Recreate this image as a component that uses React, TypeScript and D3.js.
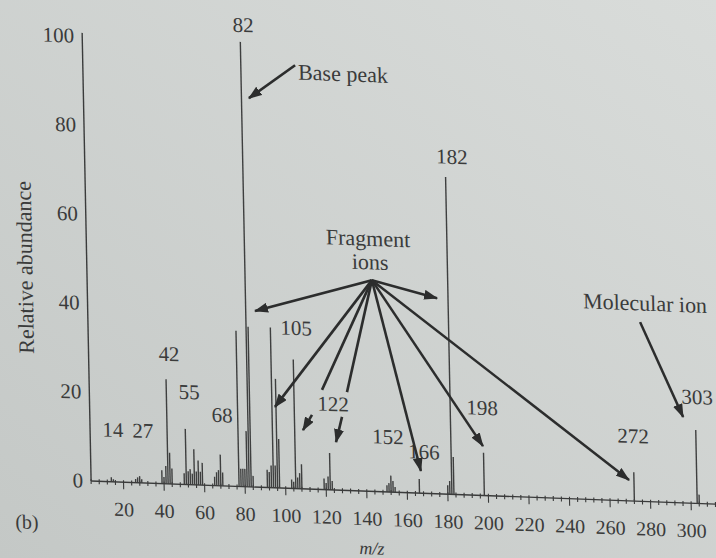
import React from 'react';
import * as d3 from 'd3';

// mass spectrum peaks (m/z, relative abundance %)
const mz = [14, 15, 26, 27, 28, 29, 39, 40, 41, 42, 43, 44, 50, 51, 52, 53, 54, 55, 56, 57, 58, 59,
  65, 66, 67, 68, 69, 77, 78, 79, 80, 81, 82, 83, 84, 91, 92, 93, 94, 95, 96, 97,
  103, 104, 105, 106, 107, 108, 119, 120, 121, 122, 123, 150, 151, 152, 153, 154,
  166, 180, 181, 182, 183, 198, 272, 303, 304];
const abundance = [1, 0.6, 0.8, 1.2, 1.5, 0.8, 3, 1.5, 4, 23.5, 7, 3.5, 2.5, 12.5, 3, 3.5, 2.5, 8, 3, 5.5, 3, 5,
  2, 3, 3.5, 7, 3, 35, 4, 4, 4, 12.5, 100, 36, 2.5, 4, 3.5, 5, 36, 5, 24.5, 11,
  2, 1.5, 29, 2.5, 3.5, 5.5, 2.5, 1.5, 3, 8.3, 2, 1.5, 2, 3.7, 2.5, 1.2,
  3.2, 2, 3, 71.3, 8.4, 9.6, 6.5, 16.5, 2];

const xTicks = [20, 40, 60, 80, 100, 120, 140, 160, 180, 200, 220, 240, 260, 280, 300];
const yTicks = [0, 20, 40, 60, 80, 100];

// peak labels, anchored in data units (m/z, abundance)
const peakLabels = ['82', '182', '14', '27', '42', '55', '68', '105', '122', '152', '166', '198', '272', '303'];
const peakLabelAt: [number, number][] = [
  [83.5, 103.8], [185.3, 75.9], [15.3, 11.7], [30.1, 11.7], [43.7, 29.2], [53.2, 20.8], [69.3, 15.9],
  [106.7, 36.1], [124.2, 19.3], [151.0, 12.4], [168.6, 9.3], [197.7, 19.7], [272.0, 14.6], [304.0, 23.9],
];

const hub: [number, number] = [144.6, 47.5];
// arrows: [from, to, withHead]
const arrows: [[number, number], [number, number], boolean][] = [
  [[108.8, 95.2], [85.7, 87.4], true],
  [hub, [86.6, 39.6], true],
  [hub, [176.6, 44.0], true],
  [hub, [95.5, 18.2], true],
  [hub, [118.9, 22.4], false],
  [hub, [131.2, 22.1], false],
  [hub, [166.9, 5.0], true],
  [hub, [197.8, 11.1], true],
  [hub, [269.6, 4.7], true],
  [[113.7, 16.7], [109.1, 13.2], true],
  [[128.5, 16.5], [125.3, 10.8], true],
  [[276.6, 40.3], [296.9, 19.3], true],
];

const W = 716;
const H = 558;
const ink = '#3a3b3b';
const serif = '"Liberation Serif", "Times New Roman", serif';

export default function App() {
  const x = d3.scaleLinear().domain([0, 310]).range([83, 711.4]);
  const y = d3.scaleLinear().domain([0, 100]).range([481, 36]);
  const cx = x(4);
  const cy = y(0);
  // slight perspective of the photographed page
  const skew = `translate(${cx},${cy}) matrix(1,0.037,0.02,1,0,0) translate(${-cx},${-cy})`;
  const minor = d3.range(4, 313, 4);

  return (
    <svg width={W} height={H} style={{ position: 'absolute', left: 0, top: 0 }} fontFamily={serif}>
      <defs>
        <linearGradient id="paper" x1="1" y1="0" x2="0" y2="1">
          <stop offset="0%" stopColor="#d9dcda" />
          <stop offset="100%" stopColor="#c4c8c6" />
        </linearGradient>
        <marker id="head" markerUnits="userSpaceOnUse" markerWidth={14} markerHeight={10}
          refX={13} refY={5} orient="auto">
          <path d="M0,0 L14,5 L0,10 Z" fill="#2c2d2d" />
        </marker>
      </defs>
      <rect width={W} height={H} fill="url(#paper)" />
      <g transform={skew}>
        {/* axes */}
        <line x1={cx} x2={cx} y1={y(0)} y2={y(100.7)} stroke={ink} strokeWidth={1.4} />
        <line x1={cx} x2={x(312)} y1={cy} y2={cy} stroke={ink} strokeWidth={1.4} />
        {minor.map(t => (
          <line key={t} x1={x(t)} x2={x(t)} y1={cy - 2}
            y2={t % 20 === 0 ? cy + 7 : cy + 3} stroke={ink} strokeWidth={1.1} />
        ))}
        {yTicks.map(t => (
          <text key={t} x={cx - 8} y={y(t)} textAnchor="end" dominantBaseline="central"
            fontSize={21} fill={ink}>{t}</text>
        ))}
        {xTicks.map(t => (
          <text key={t} x={x(t)} y={cy + 27} textAnchor="middle" dominantBaseline="central"
            fontSize={20} fill={ink}>{t}</text>
        ))}
        <text transform={`translate(${cx - 62},${y(47.5)}) rotate(-90)`} textAnchor="middle"
          dominantBaseline="central" fontSize={22} fill={ink}>Relative abundance</text>
        <text x={x(142)} y={cy + 57} textAnchor="middle" dominantBaseline="central"
          fontSize={18} fontStyle="italic" fill={ink}>m/z</text>
        <text x={cx - 65} y={cy + 43} textAnchor="middle" dominantBaseline="central"
          fontSize={20} fill={ink}>(b)</text>

        {/* peaks */}
        {mz.map((m, i) => (
          <line key={m} x1={x(m)} x2={x(m)} y1={cy} y2={y(abundance[i])}
            stroke="#3e3f3f" strokeWidth={1.4} />
        ))}

        {/* labels */}
        {peakLabels.map((s, i) => (
          <text key={s} x={x(peakLabelAt[i][0])} y={y(peakLabelAt[i][1])} textAnchor="middle"
            dominantBaseline="central" fontSize={21} fill={ink}>{s}</text>
        ))}
        <text x={x(110.2)} y={y(93.7)} dominantBaseline="central" fontSize={22} fill={ink}>Base peak</text>
        <text x={x(143.1)} y={y(56.9)} textAnchor="middle" dominantBaseline="central" fontSize={22} fill={ink}>Fragment</text>
        <text x={x(143.9)} y={y(51.6)} textAnchor="middle" dominantBaseline="central" fontSize={22} fill={ink}>ions</text>
        <text x={x(279.2)} y={y(44.6)} textAnchor="middle" dominantBaseline="central" fontSize={22} fill={ink}>Molecular ion</text>

        {/* arrows */}
        {arrows.map(([f, t, h], i) => (
          <line key={i} x1={x(f[0])} y1={y(f[1])} x2={x(t[0])} y2={y(t[1])}
            stroke="#2c2d2d" strokeWidth={2.6} markerEnd={h ? 'url(#head)' : undefined} />
        ))}
      </g>
    </svg>
  );
}
